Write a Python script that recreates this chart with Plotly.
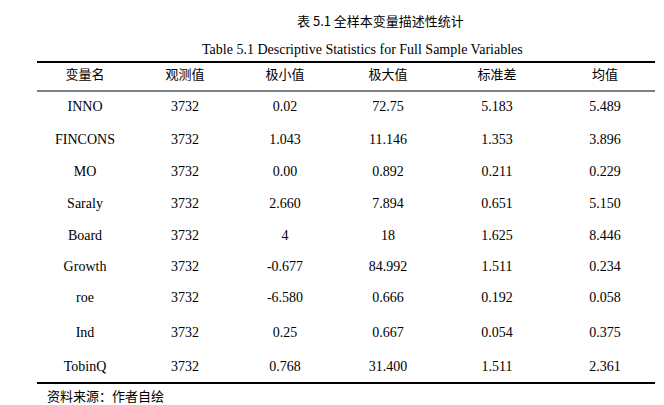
import plotly.graph_objects as go

headers = ["变量名", "观测值", "极小值", "极大值", "标准差", "均值"]
variables = ["INNO", "FINCONS", "MO", "Saraly", "Board", "Growth", "roe", "Ind", "TobinQ"]
obs = ["3732"] * 9
mins = ["0.02", "1.043", "0.00", "2.660", "4", "-0.677", "-6.580", "0.25", "0.768"]
maxs = ["72.75", "11.146", "0.892", "7.894", "18", "84.992", "0.666", "0.667", "31.400"]
sds = ["5.183", "1.353", "0.211", "0.651", "1.625", "1.511", "0.192", "0.054", "1.511"]
means = ["5.489", "3.896", "0.229", "5.150", "8.446", "0.234", "0.058", "0.375", "2.361"]

col_x = [85, 185, 285, 388, 497, 605]
row_y = [107, 140, 172, 204, 236, 267, 298, 333, 367]
serif = "Liberation Serif, Times New Roman, serif"
cjk = "Noto Sans CJK SC"

fig = go.Figure()
columns = [variables, obs, mins, maxs, sds, means]
for cx, vals in zip(col_x, columns):
    fig.add_trace(go.Scatter(x=[cx] * len(vals), y=row_y, mode="text", text=vals,
                             textfont=dict(family=serif, size=14, color="black"),
                             hoverinfo="skip", showlegend=False))
fig.add_trace(go.Scatter(x=col_x, y=[76] * 6, mode="text", text=headers,
                         textfont=dict(family=cjk, size=13, color="black"),
                         hoverinfo="skip", showlegend=False))

fig.add_annotation(x=380, y=20, text="表 5.1 全样本变量描述性统计", showarrow=False,
                   font=dict(family=cjk, size=13, color="black"))
fig.add_annotation(x=362, y=49, text="Table 5.1 Descriptive Statistics for Full Sample Variables",
                   showarrow=False, font=dict(family=serif, size=14, color="black"))
fig.add_annotation(x=45, y=395, text="资料来源：作者自绘", showarrow=False, xanchor="left",
                   font=dict(family=cjk, size=13, color="black"))

fig.add_shape(type="line", x0=37, x1=655, y0=62, y1=62, line=dict(color="black", width=2))
fig.add_shape(type="line", x0=37, x1=655, y0=91, y1=91, line=dict(color="black", width=1))
fig.add_shape(type="line", x0=37, x1=655, y0=383, y1=383, line=dict(color="black", width=2))

# page body has an 8px margin; compensate so figure coordinates match window pixels
fig.update_layout(width=656, height=397, margin=dict(l=0, r=0, t=0, b=0),
                  plot_bgcolor="white", paper_bgcolor="white",
                  xaxis=dict(range=[8, 664], visible=False, fixedrange=True),
                  yaxis=dict(range=[405, 8], visible=False, fixedrange=True))
fig.write_html("out.html")
